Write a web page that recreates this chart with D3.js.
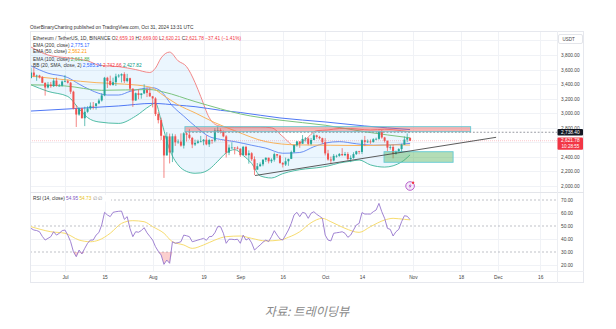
<!DOCTYPE html>
<html><head><meta charset="utf-8">
<script src="https://cdn.jsdelivr.net/npm/d3@7"></script>
<style>html,body{margin:0;padding:0;background:#fff;}svg{display:block;font-family:"Liberation Sans",Arial,sans-serif;}</style>
</head><body><svg id="c" width="616" height="329"></svg>
<script>
// ---------- DATA ----------
const startDay = "2024-06-19", endDay = "2024-10-31";
const open = [3484,3559,3515,3518,3494,3418,3354,3393,3372,3448,3378,3378,
3436,3440,3420,3296,3063,2982,3067,2931,3020,3066,3101,3100,3135,3175,3245,3487,3444,3388,3426,3506,3518,3537,3441,3481,3337,3174,3275,3250,3272,3318,3280,
3232,3203,2988,2905,2690,2420,2682,2460,2683,2600,2610,2555,2724,2705,2661,2570,2592,2613,2614,2636,2572,2632,2625,2763,2768,2747,2682,2458,2528,2528,2526,
2513,2424,2538,2424,2450,2368,2225,2272,2298,2360,2388,2340,2361,2438,2418,2317,2295,2340,2373,2466,2561,2612,2581,2647,2653,2579,2632,2696,2675,2657,
2602,2448,2364,2350,2414,2414,2440,2423,2440,2370,2386,2438,2477,2468,2629,2606,2612,2605,2643,2648,2746,2667,2620,2527,2536,2440,2476,2507,2568,2638,2659.19];
const high = [3624,3627,3530,3527,3510,3423,3430,3430,3480,3490,3403,3450,
3524,3461,3430,3309,3112,3079,3075,3089,3096,3148,3154,3138,3200,3275,3499,3500,3516,3488,3543,3539,3548,3563,3541,3488,3341,3285,3329,3275,3397,3350,3349,
3238,3220,3015,2939,2697,2740,2720,2720,2710,2642,2723,2740,2740,2780,2675,2637,2636,2688,2645,2697,2648,2642,2795,2820,2792,2762,2700,2570,2600,2535,2545,
2517,2550,2553,2490,2465,2407,2316,2324,2371,2393,2390,2380,2460,2439,2430,2328,2390,2375,2486,2570,2620,2614,2700,2673,2665,2660,2728,2704,2690,2664,
2658,2497,2404,2440,2430,2453,2520,2468,2465,2420,2464,2484,2483,2640,2688,2640,2640,2657,2664,2760,2769,2675,2626,2562,2566,2488,2520,2580,2681,2722,2669];
const low = [3476,3495,3445,3478,3413,3242,3340,3350,3360,3366,3368,3366,
3425,3407,3265,3053,2811,2965,2928,2823,3005,3046,3052,3050,3124,3160,3234,3347,3377,3378,3374,3488,3423,3416,3424,3306,3087,3172,3192,3200,3262,3222,3225,
3080,2961,2860,2631,2111,2420,2310,2329,2551,2580,2540,2515,2611,2640,2520,2549,2580,2600,2560,2560,2536,2580,2602,2738,2722,2670,2392,2424,2512,2435,2502,
2400,2424,2410,2306,2345,2150,2225,2265,2272,2330,2310,2315,2335,2386,2305,2255,2275,2277,2370,2455,2541,2525,2580,2610,2560,2560,2630,2650,2640,2581,
2420,2348,2310,2340,2390,2402,2410,2410,2352,2328,2375,2427,2437,2440,2550,2590,2580,2595,2630,2635,2650,2598,2480,2500,2380,2430,2464,2465,2566,2603,2620.21];
const close = [3559,3515,3518,3494,3418,3354,3393,3372,3448,3378,3378,3436,
3440,3420,3296,3063,2982,3067,2931,3020,3066,3101,3100,3135,3175,3245,3487,3444,3388,3426,3506,3518,3537,3441,3481,3337,3174,3275,3250,3272,3318,3280,3232,
3203,2988,2905,2690,2420,2682,2460,2683,2600,2610,2555,2724,2705,2661,2570,2592,2613,2614,2636,2572,2632,2625,2763,2768,2747,2682,2458,2528,2528,2526,2513,
2424,2538,2424,2450,2368,2225,2272,2298,2360,2388,2340,2361,2438,2418,2317,2295,2340,2373,2466,2561,2612,2581,2647,2653,2579,2632,2696,2675,2657,2602,
2448,2364,2350,2414,2414,2440,2423,2440,2370,2386,2438,2477,2468,2629,2606,2612,2605,2643,2648,2746,2667,2620,2527,2536,2440,2476,2507,2568,2638,2659,2621.78];
const rsi = [48.2,46.9,46.5,45.6,42,39.2,40.5,41.8,45.6,43,44.4,46.4,
46.9,43,38,30.2,26.4,31.5,28.5,32.8,36.7,39.2,39.2,43,45,50.8,60.5,58.5,57.2,60.5,61,61.3,61.5,55.1,57.2,48,41.8,45.6,45.2,46.5,48.7,44.8,42,
39.2,34.1,30.5,27.7,20.5,23.8,21.3,37.9,36.7,37.2,37.9,43,42.5,41.8,37.9,38.5,39.2,39.8,40.5,39,41.8,42,44.8,49.5,49.5,44.4,36.7,39.8,39.8,39.5,39.8,
36.7,43,39.2,40.5,37,31.5,33.5,35.4,37.5,39.2,38,41.8,46.4,43,40,39.2,43,46.9,52,58.5,60.5,57.2,60.5,59.8,55.9,59.8,61,59,57.5,55.9,
43,39.2,38.5,44.4,44.8,45.1,45.6,44.4,41.3,43,46.9,50.8,52,60.3,59.2,59.2,59.2,61,62.3,67.4,61,55.9,48.2,47.4,42.3,45.6,47.4,53.3,57.9,57.5,54.95];

const rsiMaDates = ["2024-06-19","2024-06-26","2024-07-01","2024-07-06","2024-07-10","2024-07-13","2024-07-17","2024-07-21","2024-07-25","2024-07-29","2024-08-01","2024-08-05","2024-08-08","2024-08-12","2024-08-15","2024-08-19","2024-08-23","2024-08-27","2024-09-01","2024-09-05","2024-09-10","2024-09-15","2024-09-18","2024-09-22","2024-09-26","2024-09-30","2024-10-03","2024-10-08","2024-10-13","2024-10-17","2024-10-22","2024-10-25","2024-10-29","2024-10-31"];
const rsiMa = [49.5,45.6,44.4,39.2,37.9,39.2,44.4,52,54.1,53.3,49.5,44.4,37.9,35.4,32.8,35.4,39.2,41.8,42.3,40.5,38.5,39.2,41.3,45.6,52.5,55.9,53.3,48.2,45.1,49.5,54.6,55.9,55.1,54.73];

const ema200Dates = ["2024-06-19","2024-07-05","2024-07-20","2024-08-01","2024-08-10","2024-08-16","2024-08-25","2024-09-01","2024-09-15","2024-10-01","2024-10-15","2024-10-31"];
const ema200 = [3030,3065,3100,3135,3110,3090,3040,3010,2935,2880,2825,2775.17];
const ema100Dates = ["2024-06-19","2024-07-01","2024-07-14","2024-07-31","2024-08-05","2024-08-16","2024-08-25","2024-09-01","2024-09-15","2024-10-01","2024-10-15","2024-10-31"];
const ema100 = [3390,3375,3315,3325,3290,3160,3060,2990,2905,2835,2745,2661.88];
const ema50Dates = ["2024-06-19","2024-07-01","2024-07-12","2024-07-22","2024-07-31","2024-08-05","2024-08-10","2024-08-16","2024-08-23","2024-08-30","2024-09-10","2024-09-21","2024-10-03","2024-10-15","2024-10-25","2024-10-31"];
const ema50 = [3510,3460,3420,3400,3360,3240,3115,3005,2870,2760,2610,2565,2560,2555,2565,2562.21];
const bbBasisDates = ["2024-06-19","2024-06-25","2024-07-02","2024-07-06","2024-07-10","2024-07-16","2024-07-20","2024-07-24","2024-08-01","2024-08-04","2024-08-08","2024-08-12","2024-08-17","2024-08-21","2024-08-25","2024-08-30","2024-09-05","2024-09-10","2024-09-16","2024-09-22","2024-09-27","2024-10-01","2024-10-06","2024-10-12","2024-10-18","2024-10-24","2024-10-31"];
const bbBasis = [3650,3550,3490,3400,3320,3250,3250,3300,3350,3300,3100,2960,2790,2680,2640,2610,2560,2520,2450,2460,2540,2590,2610,2580,2560,2565,2585.24];
const bbDates = ["2024-06-19","2024-06-25","2024-07-02","2024-07-06","2024-07-09","2024-07-13","2024-07-20","2024-07-26","2024-07-31","2024-08-02","2024-08-04","2024-08-07","2024-08-10","2024-08-13","2024-08-16","2024-08-18","2024-08-21","2024-08-24","2024-08-27","2024-08-30","2024-09-02","2024-09-05","2024-09-08","2024-09-12","2024-09-16","2024-09-20","2024-09-24","2024-09-28","2024-10-02","2024-10-06","2024-10-10","2024-10-13","2024-10-17","2024-10-22","2024-10-28","2024-10-31"];
const bbUpper = [3910,3800,3760,3740,3720,3660,3640,3600,3560,3620,3760,3840,3720,3640,3420,3230,2940,2830,2810,2810,2810,2810,2810,2800,2680,2560,2640,2760,2770,2790,2790,2780,2770,2780,2760,2742.66];
const bbLower = [3390,3300,3230,3060,2940,2880,2860,2960,3100,3140,2900,2500,2290,2200,2175,2180,2230,2340,2455,2500,2420,2310,2140,2110,2170,2210,2235,2250,2275,2316,2340,2357,2290,2260,2330,2427.82];

const priceTicks = [2000,2200,2400,2600,2800,3000,3200,3400,3600,3800];
const rsiTicks = [20,30,40,50,60,70];
const rsiBands = [70,50,30];
const timeTickDates = ["2024-07-01","2024-07-15","2024-08-01","2024-08-19","2024-09-01","2024-09-16","2024-10-01","2024-10-14","2024-11-01","2024-11-18","2024-12-01","2024-12-16"];
const timeTickLabels = ["Jul","15","Aug","19","Sep","16","Oct","14","Nov","18","Dec","16"];

const resistanceZone = {from:"2024-08-12T10:00", to:"2024-11-21T10:00", top:2815, bottom:2746};
const supportZone = {from:"2024-10-21T19:00", to:"2024-11-15T05:00", top:2471, bottom:2326};
const trendLine = {from:"2024-09-06T05:00", p1:2144, to:"2024-11-30T10:00", p2:2669};
const markLevel = 2738.40;
const lastPrice = 2621.78;
const countdown = "10:28:55";

// ---------- LAYOUT ----------
const L=30, R=584, PR=557, T=31, MB=192, RB=271, B=283;
const parse = d3.utcParse("%Y-%m-%d");
const parseT = d3.utcParse("%Y-%m-%dT%H:%M");
const x = d3.scaleUtc().domain([parse("2024-06-19"), parse("2024-11-01")]).range([31, 412.9]);
const y = d3.scaleLinear().domain([2000,3800]).range([186,55]);
const yr = d3.scaleLinear().domain([20,70]).range([265,200]);
const fmt = d3.format(",.2f");

const svg = d3.select("#c");
svg.append("rect").attr("width",616).attr("height",329).attr("fill","#fff");

// header
svg.append("text").attr("x",30).attr("y",28.5).attr("font-size",4.8).attr("fill","#333")
  .text("OtterBinaryCharting published on TradingView.com, Oct 31, 2024 13:31 UTC");

// frame
svg.append("rect").attr("x",L+0.5).attr("y",T+0.5).attr("width",R-L-1).attr("height",B-T-1)
  .attr("fill","#fff").attr("stroke","#e6e8ee");

// grids
const g = svg.append("g");
timeTickDates.forEach(d=>{
  const xx = Math.round(x(parse(d)))+0.5;
  g.append("line").attr("x1",xx).attr("x2",xx).attr("y1",T+1).attr("y2",RB).attr("stroke","#f0f2f6");
});
priceTicks.concat([4000]).forEach(p=>{
  const yy = Math.round(y(p))+0.5;
  g.append("line").attr("x1",L+1).attr("x2",PR).attr("y1",yy).attr("y2",yy).attr("stroke","#f0f2f6");
});
[20,40,60].forEach(v=>{
  const yy = Math.round(yr(v))+0.5;
  g.append("line").attr("x1",L+1).attr("x2",PR).attr("y1",yy).attr("y2",yy).attr("stroke","#f0f2f6");
});
g.append("line").attr("x1",L).attr("x2",R).attr("y1",MB+0.5).attr("y2",MB+0.5).attr("stroke","#e3e5ea");
g.append("line").attr("x1",L).attr("x2",R).attr("y1",RB+0.5).attr("y2",RB+0.5).attr("stroke","#eceef2");
g.append("line").attr("x1",PR+0.5).attr("x2",PR+0.5).attr("y1",T).attr("y2",B).attr("stroke","#eceef2");

// clip
const defs = svg.append("defs");
defs.append("clipPath").attr("id","mainClip").append("rect").attr("x",L+1).attr("y",T+1).attr("width",PR-L-1).attr("height",MB-T-1);
defs.append("clipPath").attr("id","rsiClip").append("rect").attr("x",L+1).attr("y",MB+1).attr("width",PR-L-1).attr("height",RB-MB-1);
const main = svg.append("g").attr("clip-path","url(#mainClip)");

// Bollinger fill
const bb = bbDates.map((d,i)=>({d:parse(d),u:bbUpper[i],l:bbLower[i]}));
main.append("path").datum(bb).attr("fill","rgba(33,150,243,0.09)")
  .attr("d", d3.area().x(d=>x(d.d)).y0(d=>y(d.l)).y1(d=>y(d.u)).curve(d3.curveMonotoneX));
function line(dates, vals, color, w, op){
  const data = dates.map((d,i)=>({d:parse(d),v:vals[i]}));
  main.append("path").datum(data).attr("fill","none").attr("stroke",color).attr("stroke-width",w).attr("opacity",op||1)
    .attr("d", d3.line().x(d=>x(d.d)).y(d=>y(d.v)).curve(d3.curveMonotoneX));
}
line(bbDates, bbUpper, "#f27a7a", 0.9);
line(bbDates, bbLower, "#3fb59b", 0.9);
line(bbBasisDates, bbBasis, "#5b83f2", 0.9);
line(ema200Dates, ema200, "#4f78f5", 1);
line(ema100Dates, ema100, "#7cc47f", 1);
line(ema50Dates, ema50, "#f9b35c", 1);

// last price line
main.append("line").attr("x1",L).attr("x2",PR).attr("y1",y(lastPrice)).attr("y2",y(lastPrice))
  .attr("stroke","#f23645").attr("stroke-opacity",0.45).attr("stroke-width",0.6).attr("stroke-dasharray","1,1");

// candles
const days = d3.utcDay.range(parse(startDay), d3.utcDay.offset(parse(endDay),1));
const rows = days.map((d,i)=>({d, o:open[i], h:high[i], l:low[i], c:close[i]}));
const cg = main.append("g");
rows.forEach(r=>{
  const col = r.c>=r.o ? "#26a69a" : "#ef5350";
  const cx = x(r.d);
  cg.append("line").attr("x1",cx).attr("x2",cx).attr("y1",y(r.h)).attr("y2",y(r.l)).attr("stroke",col).attr("stroke-width",0.7);
  const top = y(Math.max(r.o,r.c)), bot = y(Math.min(r.o,r.c));
  cg.append("rect").attr("x",cx-1).attr("y",top).attr("width",2).attr("height",Math.max(0.7,bot-top)).attr("fill",col);
});

// zones
function zone(z, fill){
  const x1 = x(parseT(z.from)), x2 = x(parseT(z.to));
  main.append("rect").attr("x",x1).attr("y",y(z.top)).attr("width",x2-x1).attr("height",y(z.bottom)-y(z.top))
    .attr("fill",fill).attr("stroke","#62c9d4").attr("stroke-width",0.9);
}
zone(resistanceZone, "rgba(239,83,80,0.42)");
zone(supportZone, "rgba(76,175,80,0.42)");

// mark level dashed
main.append("line").attr("x1",x(parseT(resistanceZone.from))).attr("x2",PR).attr("y1",y(markLevel)).attr("y2",y(markLevel))
  .attr("stroke","#8a8d96").attr("stroke-width",0.9).attr("stroke-dasharray","1.8,1.8");

// trend line
main.append("line").attr("x1",x(parseT(trendLine.from))).attr("y1",y(trendLine.p1))
  .attr("x2",x(parseT(trendLine.to))).attr("y2",y(trendLine.p2)).attr("stroke","#4a4a4a").attr("stroke-width",0.9);

// lightning marker
const mx = x(parse(endDay)), my = 186;
const mk = svg.append("g").attr("transform",`translate(${mx},${my})`);
mk.append("circle").attr("r",4.3).attr("fill","#f6ecf9").attr("stroke","#b04fc6").attr("stroke-width",0.9);
mk.append("path").attr("d","M0.8,-2.8 L-1.6,0.4 L0,0.4 L-0.8,2.8 L1.6,-0.5 L0,-0.5 Z").attr("fill","#b04fc6");
mk.append("circle").attr("cx",3).attr("cy",-3.3).attr("r",1.2).attr("fill","#f23645");

// legends
const lg = svg.append("g").attr("font-size",4.8);
function legendRow(yy, parts){
  const t = lg.append("text").attr("x",33).attr("y",yy);
  parts.forEach(([s,c])=>t.append("tspan").attr("fill",c).text(s));
}
const red="#f23645", dark="#333";
legendRow(39.6, [["Ethereum / TetherUS, 1D, BINANCE  ",dark],["O",dark],[fmt(open[open.length-1]),red],[" H",dark],[fmt(high[high.length-1]),red],[" L",dark],[fmt(low[low.length-1]),red],[" C",dark],[fmt(close[close.length-1]),red],["  −37.41 (−1.41%)",red]]);
legendRow(46.6, [["EMA (200, close)  ",dark],[fmt(2775.17),"#2962ff"]]);
legendRow(53.4, [["EMA (50, close)  ",dark],[fmt(2562.21),"#ff9800"]]);
legendRow(60.6, [["EMA (100, close)  ",dark],[fmt(2661.88),"#4caf50"]]);
legendRow(67.4, [["BB (20, SMA, close, 2)  ",dark],[fmt(2585.24),"#2962ff"],["  ",dark],[fmt(2742.66),red],["  ",dark],[fmt(2427.82),"#089981"]]);

// price axis (labels hidden where the current-price tag covers them)
const shownTicks = priceTicks.filter(p=>Math.abs(y(p)-y(lastPrice))>4.5 || false);
const ax = svg.append("g").attr("transform",`translate(${PR},0)`)
  .call(d3.axisRight(y).tickValues(shownTicks).tickFormat(fmt).tickSize(0).tickPadding(4));
ax.select(".domain").remove();
ax.selectAll("text").attr("font-size",4.8).attr("fill","#444").attr("font-family","Liberation Sans, Arial");
// USDT box
svg.append("rect").attr("x",558.5).attr("y",34.5).attr("width",24).attr("height",9).attr("rx",1.5).attr("fill","#fff").attr("stroke","#e3e5ea");
svg.append("text").attr("x",562.5).attr("y",40.8).attr("font-size",4.5).attr("fill","#444").text("USDT");
// mark label
svg.append("rect").attr("x",557.5).attr("y",y(markLevel)-3.2).attr("width",25.5).attr("height",6.4).attr("rx",1).attr("fill","#131722");
svg.append("text").attr("x",561).attr("y",y(markLevel)+1.7).attr("font-size",4.8).attr("fill","#fff").text(fmt(markLevel));
// last price label
svg.append("rect").attr("x",557.5).attr("y",y(lastPrice)-3.2).attr("width",25.5).attr("height",12.2).attr("rx",1).attr("fill","#f23645");
svg.append("text").attr("x",561).attr("y",y(lastPrice)+1.7).attr("font-size",4.8).attr("fill","#fff").text(fmt(lastPrice));
svg.append("text").attr("x",561.5).attr("y",y(lastPrice)+7.4).attr("font-size",4.6).attr("fill","#fff").text(countdown);

// ---------- RSI ----------
const rg = svg.append("g").attr("clip-path","url(#rsiClip)");
rsiBands.forEach(v=>{
  rg.append("line").attr("x1",L).attr("x2",PR).attr("y1",yr(v)).attr("y2",yr(v))
    .attr("stroke","#a3a6af").attr("stroke-width",0.7).attr("stroke-dasharray","2,2");
});
const rsiRows = days.map((d,i)=>({d, v:rsi[i]}));
rg.append("path").datum(rsiRows).attr("fill","rgba(239,83,80,0.28)")
  .attr("d", d3.area().x(d=>x(d.d)).y0(yr(30)).y1(d=>yr(Math.min(d.v,30))));
const maRows = rsiMaDates.map((d,i)=>({d:parse(d), v:rsiMa[i]}));
rg.append("path").datum(maRows).attr("fill","none").attr("stroke","#f7dc6f").attr("stroke-width",1)
  .attr("d", d3.line().x(d=>x(d.d)).y(d=>yr(d.v)).curve(d3.curveMonotoneX));
rg.append("path").datum(rsiRows).attr("fill","none").attr("stroke","#9575cd").attr("stroke-width",0.9)
  .attr("d", d3.line().x(d=>x(d.d)).y(d=>yr(d.v)));
// rsi legend
const rl = svg.append("g");
rl.append("rect").attr("x",31).attr("y",195).attr("width",80).attr("height",6.5).attr("fill","#fff");
const rt = rl.append("text").attr("x",33).attr("y",200).attr("font-size",4.8);
rt.append("tspan").attr("fill",dark).text("RSI (14, close)  ");
rt.append("tspan").attr("fill","#7e57c2").text("54.95");
rt.append("tspan").attr("fill",dark).text("  ");
rt.append("tspan").attr("fill","#e8c31a").text("54.73");
rt.append("tspan").attr("fill","#888").text("  ∅  ∅");
// rsi axis
const rax = svg.append("g").attr("transform",`translate(${PR},0)`)
  .call(d3.axisRight(yr).tickValues(rsiTicks).tickFormat(d3.format(".2f")).tickSize(0).tickPadding(4));
rax.select(".domain").remove();
rax.selectAll("text").attr("font-size",4.8).attr("fill","#444").attr("font-family","Liberation Sans, Arial");

// time axis
const tax = svg.append("g").attr("transform",`translate(0,${RB})`)
  .call(d3.axisBottom(x).tickValues(timeTickDates.map(parse)).tickFormat((d,i)=>timeTickLabels[i]).tickSize(0).tickPadding(5));
tax.select(".domain").remove();
tax.selectAll("text").attr("font-size",4.8).attr("fill","#444").attr("font-family","Liberation Sans, Arial");

// caption
svg.append("text").attr("x",307).attr("y",315.5).attr("text-anchor","middle").attr("font-size",12.2)
  .attr("font-style","italic").attr("fill","#8a8a8a").attr("font-family","'Noto Sans CJK KR', sans-serif")
  .text("자료: 트레이딩뷰");
</script></body></html>
